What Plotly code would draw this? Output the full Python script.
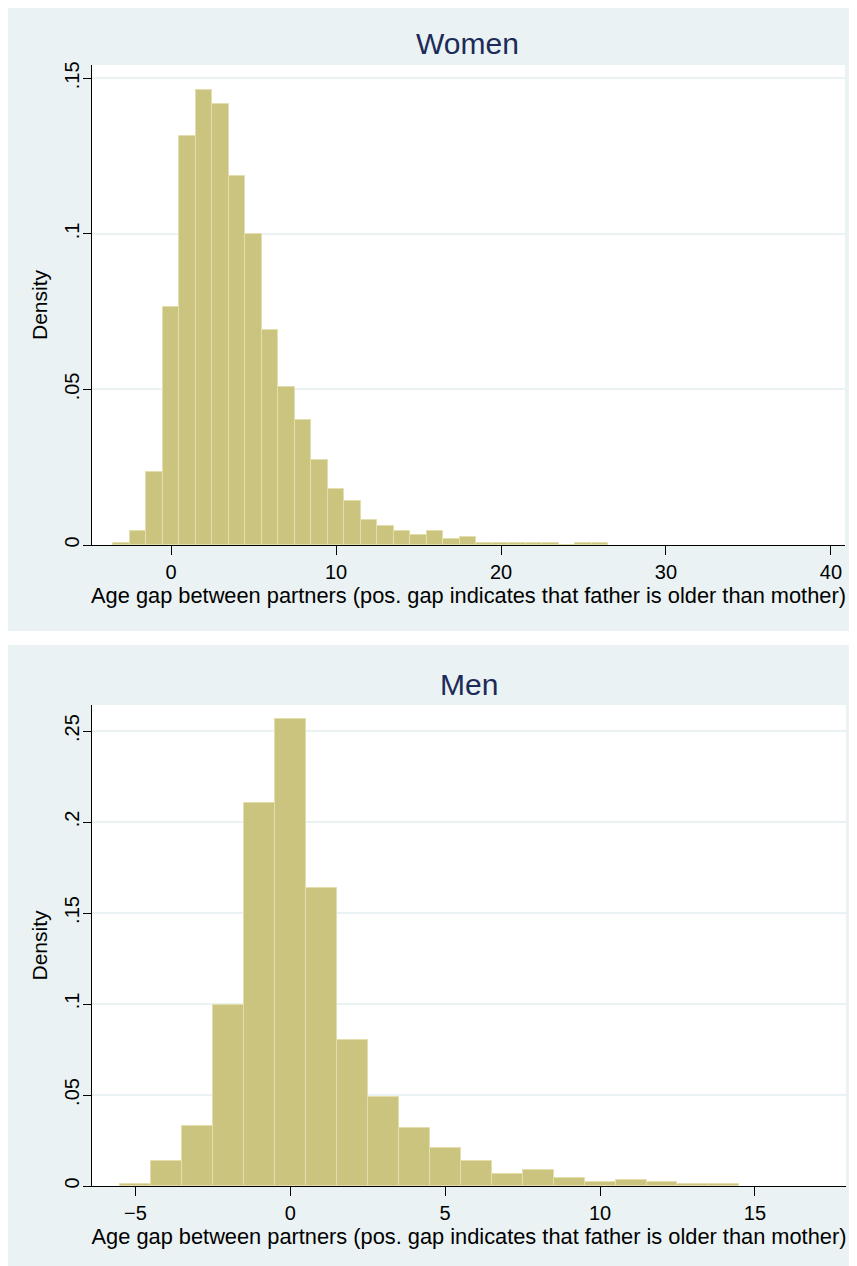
import plotly.graph_objects as go

# ---- data ----
women_bins = list(range(-3, 27))
women_density = [0.0006, 0.0045, 0.0234, 0.0766, 0.1315, 0.1463, 0.1419, 0.1185,
                 0.1000, 0.0691, 0.0507, 0.0402, 0.0272, 0.0179, 0.0143, 0.0080,
                 0.0062, 0.0045, 0.0031, 0.0045, 0.0019, 0.0025, 0.0006, 0.0006,
                 0.0006, 0.0006, 0.0006, 0.0, 0.0008, 0.0008]

men_bins = list(range(-5, 15))
men_density = [0.0011, 0.0139, 0.0330, 0.0995, 0.2103, 0.2568, 0.1637, 0.0804,
               0.0487, 0.0317, 0.0211, 0.0137, 0.0064, 0.0086, 0.0042, 0.0022,
               0.0033, 0.0022, 0.0011, 0.0011]

women_xticks = [0, 10, 20, 30, 40]
women_yticks = [0, 0.05, 0.1, 0.15]
women_yticktext = ["0", ".05", ".1", ".15"]
men_xticks = [-5, 0, 5, 10, 15]
men_yticks = [0, 0.05, 0.1, 0.15, 0.2, 0.25]
men_yticktext = ["0", ".05", ".1", ".15", ".2", ".25"]

panel_titles = ["Women", "Men"]
x_title = "Age gap between partners (pos. gap indicates that father is older than mother)"
y_title = "Density"

# ---- style ----
OFF = 8  # browser body margin
W, H = 857, 1266
PANEL = "#EAF2F3"
BAR = "#CBC47F"
BAR_LINE = "#E3DEAC"
NAVY = "#1C2B58"
FONT = "Liberation Sans, Arial, sans-serif"

fig = go.Figure()
fig.add_trace(go.Bar(x=women_bins, y=women_density, width=1,
                     marker=dict(color=BAR, line=dict(color=BAR_LINE, width=1)),
                     xaxis="x", yaxis="y", showlegend=False))
fig.add_trace(go.Bar(x=men_bins, y=men_density, width=1,
                     marker=dict(color=BAR, line=dict(color=BAR_LINE, width=1)),
                     xaxis="x2", yaxis="y2", showlegend=False))

def px_x(p):
    return (p - OFF) / W

def px_y(p):
    return 1 - (p - OFF) / H

common_x = dict(showline=True, linecolor="black", linewidth=1.3, ticks="outside",
                ticklen=9, tickcolor="black", tickwidth=1.3, showgrid=False,
                zeroline=False, automargin=False,
                tickfont=dict(size=20, color="black", family=FONT),
                title=dict(text=x_title, font=dict(size=21.8, color="black", family=FONT),
                           standoff=0))
common_y = dict(showline=True, linecolor="black", linewidth=1.3, ticks="outside",
                ticklen=8, tickcolor="black", tickwidth=1.3, showgrid=True,
                gridcolor=PANEL, gridwidth=1.5, zeroline=False, automargin=False,
                tickangle=-90, ticklabelstandoff=-4,
                tickfont=dict(size=20, color="black", family=FONT),
                title=dict(text=y_title, font=dict(size=21, color="black", family=FONT),
                           standoff=7))

fig.update_layout(
    width=W, height=H,
    margin=dict(l=0, r=0, t=0, b=0),
    paper_bgcolor=PANEL, plot_bgcolor="white",
    bargap=0,
    font=dict(family=FONT),
    xaxis=dict(common_x, domain=[px_x(92), px_x(845)], range=[-4.79, 40.85],
               tickvals=women_xticks, anchor="y"),
    yaxis=dict(common_y, domain=[px_y(545), px_y(65)], range=[0, 0.1543],
               tickvals=women_yticks, ticktext=women_yticktext, anchor="x"),
    xaxis2=dict(common_x, domain=[px_x(92), px_x(846)], range=[-6.4, 17.94],
                tickvals=men_xticks, anchor="y2"),
    yaxis2=dict(common_y, domain=[px_y(1186), px_y(705)], range=[0, 0.2643],
                tickvals=men_yticks, ticktext=men_yticktext, anchor="x2"),
    shapes=[
        dict(type="rect", xref="paper", yref="paper", x0=0, x1=1, y0=px_y(645), y1=px_y(631),
             fillcolor="white", line=dict(width=0), layer="below"),
    ],
    annotations=[
        dict(text=panel_titles[0], xref="paper", yref="paper", x=px_x(467), y=px_y(44),
             xanchor="center", yanchor="middle", showarrow=False,
             font=dict(size=30, color=NAVY, family=FONT)),
        dict(text=panel_titles[1], xref="paper", yref="paper", x=px_x(469), y=px_y(684),
             xanchor="center", yanchor="middle", showarrow=False,
             font=dict(size=30, color=NAVY, family=FONT)),
    ],
)

fig.write_html("out.html")
